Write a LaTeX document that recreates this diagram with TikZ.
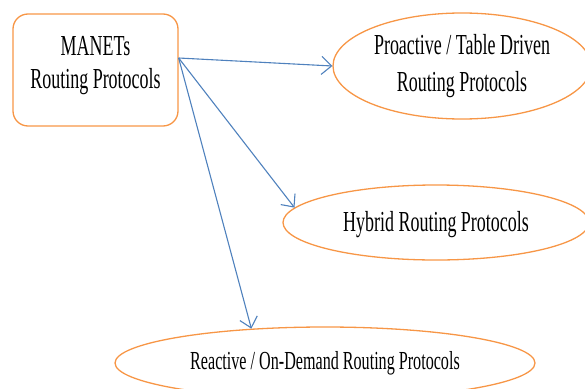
\documentclass[tikz,border=0pt]{standalone}
\usepackage{fontspec}
\setmainfont{Liberation Serif}[FakeStretch=0.62]
\usetikzlibrary{shapes.geometric,arrows.meta}
\definecolor{boxorange}{HTML}{F79646}
\definecolor{arrowblue}{HTML}{4F81BD}
\begin{document}
\begin{tikzpicture}[x=1pt,y=-1pt,
  box/.style={draw=boxorange,line width=1.3pt,rounded corners=15pt,
    minimum width=165pt,minimum height=112pt,inner sep=0pt,
    font=\fontsize{29}{33}\selectfont},
  ell/.style={draw=boxorange,line width=1.3pt,ellipse,inner sep=0pt},
  conn/.style={draw=arrowblue,line width=1.1pt,
    -{Straight Barb[length=10pt,width=18pt,line width=1.1pt]}}]
\useasboundingbox (0,0) rectangle (585,388);
\node[box] (box) at (95.5,70)
  {\raisebox{5pt}[\height][\depth]{\begin{tabular}{@{}c@{}}MANETs\\Routing Protocols\end{tabular}}};
\node[ell,minimum width=258pt,minimum height=106pt,font=\fontsize{29}{37}\selectfont]
  (pro) at (462,66) {\begin{tabular}{@{}c@{}}Proactive / Table Driven\\Routing Protocols\end{tabular}};
\node[ell,minimum width=306pt,minimum height=75pt,font=\fontsize{29}{35}\selectfont]
  (hyb) at (436,222.5) {\raisebox{-2pt}[\height][\depth]{Hybrid Routing Protocols}};
\node[ell,minimum width=420pt,minimum height=72pt,font=\fontsize{26}{31}\selectfont]
  (rea) at (325,363) {Reactive / On-Demand Routing Protocols};
\coordinate (s) at ([yshift=12pt]box.east);
\draw[conn] (s) -- (pro.west);
\draw[conn] (s) -- (hyb.174);
\draw[conn] (s) -- (rea.155);
\end{tikzpicture}
\end{document}
